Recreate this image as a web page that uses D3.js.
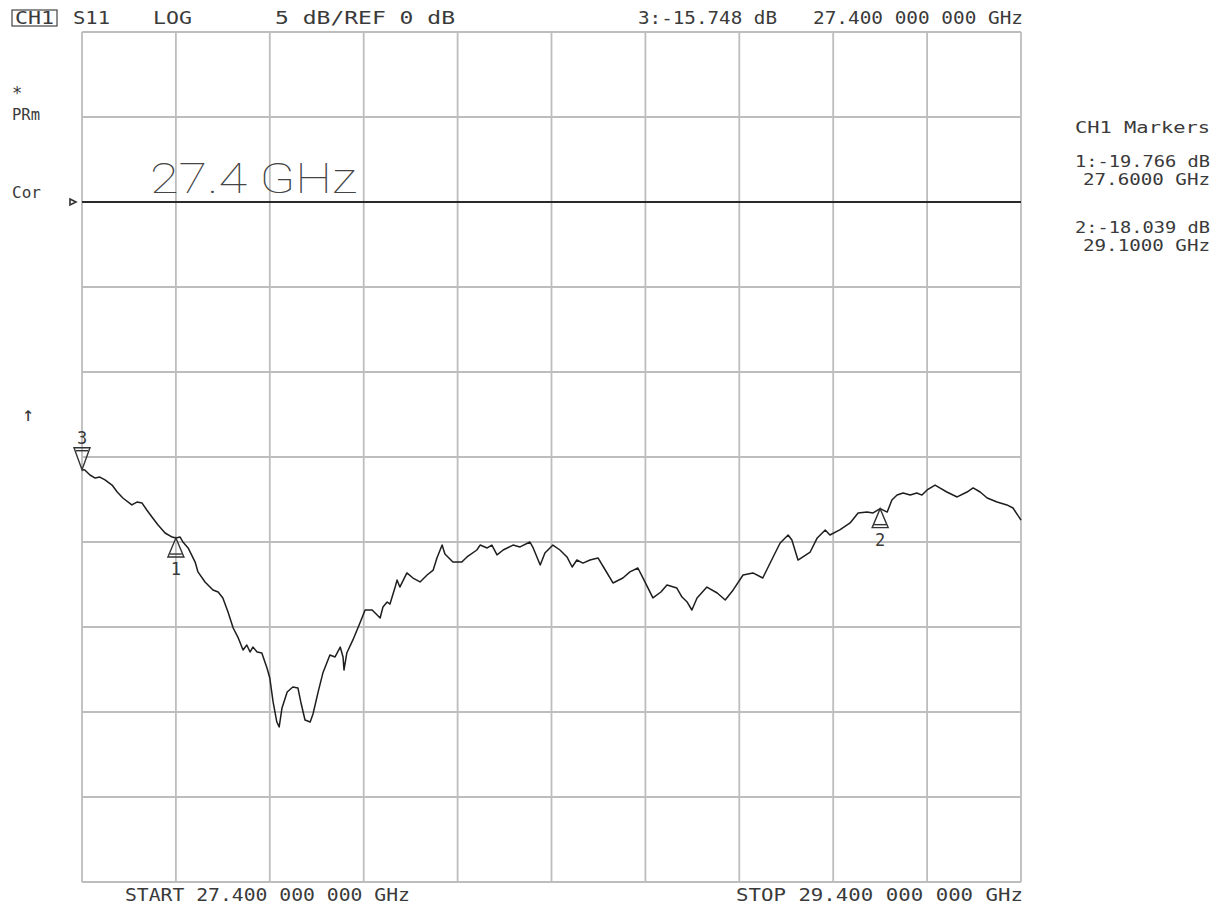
<!DOCTYPE html>
<html>
<head>
<meta charset="utf-8">
<script src="https://cdn.jsdelivr.net/npm/d3@7"></script>
<style>
  html, body { margin: 0; padding: 0; background: #fff; }
  svg { display: block; }
  .mono { font-family: "DejaVu Sans Mono", "Liberation Mono", monospace; fill: #3a3a3a; }
</style>
</head>
<body>
<svg id="chart" width="1217" height="909"></svg>
<script>
// ---- Data ----
const freqGHz = [27.400,27.406,27.417,27.428,27.438,27.449,27.464,27.475,27.487,27.506,27.517,27.528,27.538,27.549,27.562,27.577,27.592,27.600,27.609,27.615,27.626,27.641,27.647,27.662,27.679,27.690,27.700,27.711,27.722,27.732,27.743,27.751,27.758,27.764,27.773,27.783,27.794,27.800,27.807,27.815,27.820,27.826,27.837,27.849,27.860,27.866,27.875,27.886,27.892,27.903,27.913,27.928,27.939,27.950,27.956,27.958,27.964,27.977,27.992,28.003,28.018,28.035,28.041,28.050,28.056,28.067,28.071,28.077,28.092,28.105,28.120,28.135,28.148,28.156,28.167,28.173,28.190,28.209,28.220,28.241,28.248,28.263,28.273,28.284,28.297,28.318,28.333,28.354,28.361,28.376,28.386,28.403,28.418,28.433,28.444,28.454,28.467,28.482,28.499,28.512,28.531,28.552,28.567,28.584,28.595,28.616,28.633,28.646,28.667,28.678,28.689,28.699,28.710,28.731,28.753,28.770,28.787,28.808,28.829,28.850,28.872,28.887,28.904,28.912,28.925,28.951,28.966,28.983,28.993,29.014,29.036,29.053,29.072,29.085,29.100,29.115,29.125,29.136,29.149,29.164,29.178,29.189,29.200,29.217,29.227,29.242,29.264,29.285,29.298,29.313,29.328,29.349,29.370,29.383,29.400];
const s11dB = [-15.748,-15.76,-16.06,-16.24,-16.18,-16.35,-16.65,-17.06,-17.41,-17.82,-17.65,-17.71,-18.12,-18.53,-19.00,-19.47,-19.71,-19.766,-19.71,-20.00,-20.35,-21.18,-21.76,-22.35,-22.82,-22.94,-23.29,-24.12,-25.06,-25.59,-26.35,-26.06,-26.47,-26.18,-26.47,-26.53,-27.41,-28.00,-29.41,-30.59,-30.88,-29.76,-28.82,-28.53,-28.59,-29.41,-30.47,-30.59,-30.12,-28.82,-27.71,-26.65,-26.76,-26.18,-26.76,-27.53,-26.53,-25.76,-24.76,-24.00,-24.00,-24.47,-23.82,-23.53,-23.65,-22.65,-22.24,-22.65,-21.82,-22.12,-22.35,-21.94,-21.65,-20.94,-20.18,-20.71,-21.18,-21.18,-20.88,-20.47,-20.18,-20.35,-20.18,-20.76,-20.47,-20.18,-20.29,-20.00,-20.35,-21.35,-20.65,-20.18,-20.47,-20.88,-21.47,-21.06,-21.24,-21.06,-20.94,-21.53,-22.41,-22.12,-21.76,-21.53,-22.12,-23.29,-22.94,-22.53,-22.71,-23.24,-23.53,-24.00,-23.29,-22.65,-23.00,-23.41,-22.82,-21.94,-21.82,-22.12,-20.88,-20.06,-19.59,-19.88,-21.06,-20.59,-19.76,-19.29,-19.59,-19.29,-18.88,-18.29,-18.24,-18.29,-18.039,-18.24,-17.53,-17.24,-17.12,-17.24,-17.12,-17.24,-16.94,-16.65,-16.82,-17.06,-17.35,-17.06,-16.82,-17.06,-17.41,-17.65,-17.82,-18.00,-18.71];

const markerIds = ["3", "1", "2"];
const markerFreq = [27.4, 27.6, 29.1];
const markerdB = [-15.748, -19.766, -18.039];
const markerDir = ["down", "up", "up"];

const freqStart = 27.4, freqStop = 29.4, freqDivs = 10;
const refLevel = 0, scaleDiv = 5, topLevel = 10, bottomLevel = -40;

const headerLabels = ["S11", "LOG", "5 dB/REF 0 dB", "3:-15.748 dB", "27.400 000 000 GHz"];
const sideLabels = ["*", "PRm", "Cor", "\u2191"];
const markerPanel = ["CH1 Markers", "1:-19.766 dB", "27.6000 GHz", "2:-18.039 dB", "29.1000 GHz"];
const footerLabels = ["START 27.400 000 000 GHz", "STOP 29.400 000 000 GHz"];
const bigLabel = "27.4 GHz";

// ---- Drawing ----
const svg = d3.select("#chart");
const L = 82, R = 1021, T = 32, B = 882;
const x = d3.scaleLinear().domain([freqStart, freqStop]).range([L, R]);
const y = d3.scaleLinear().domain([topLevel, bottomLevel]).range([T, B]);

svg.append("rect").attr("width", 1217).attr("height", 909).attr("fill", "#fff");

const grid = svg.append("g").attr("stroke", "#bdbdbd").attr("stroke-width", 1.8).attr("fill", "none");
const xT = d3.range(freqDivs + 1).map(i => freqStart + i * (freqStop - freqStart) / freqDivs);
const yT = d3.range(topLevel, bottomLevel - 0.001, -scaleDiv);
grid.selectAll("line.v").data(xT).join("line")
  .attr("x1", d => x(d)).attr("x2", d => x(d)).attr("y1", T).attr("y2", B);
grid.selectAll("line.h").data(yT).join("line")
  .attr("x1", L).attr("x2", R).attr("y1", d => y(d)).attr("y2", d => y(d));

// reference line
svg.append("line").attr("x1", L).attr("x2", R).attr("y1", y(refLevel)).attr("y2", y(refLevel))
  .attr("stroke", "#2a2a2a").attr("stroke-width", 2);
// reference pointer
svg.append("path")
  .attr("d", `M${L-12},${y(refLevel)-3} L${L-6},${y(refLevel)} L${L-12},${y(refLevel)+3} Z`)
  .attr("fill", "#fff").attr("stroke", "#333").attr("stroke-width", 1.6);

// big stimulus label
svg.append("text").attr("x", 150).attr("y", 193)
  .attr("font-family", "Roboto, 'DejaVu Sans'").attr("font-weight", 100)
  .attr("font-size", 42).attr("fill", "#444")
  .attr("textLength", 207).attr("lengthAdjust", "spacingAndGlyphs")
  .text(bigLabel);

// trace
const pts = freqGHz.map((f, i) => [f, s11dB[i]]);
svg.append("path").datum(pts)
  .attr("d", d3.line().x(d => x(d[0])).y(d => y(d[1])))
  .attr("fill", "none").attr("stroke", "#1e1e1e").attr("stroke-width", 1.5)
  .attr("stroke-linejoin", "round");

// markers
markerIds.forEach((id, i) => {
  const mx = x(markerFreq[i]), my = y(markerdB[i]);
  const g = svg.append("g").attr("stroke", "#333").attr("fill", "none").attr("stroke-width", 1.4);
  if (markerDir[i] === "down") {
    g.append("path").attr("d", `M${mx-8},${my-22} L${mx+8},${my-22} L${mx},${my} Z`);
    g.append("line").attr("x1", mx-6).attr("x2", mx+6).attr("y1", my-19).attr("y2", my-19);
    svg.append("text").attr("class", "mono").attr("x", mx).attr("y", my-26)
      .attr("text-anchor", "middle").attr("font-size", 17).text(id);
  } else {
    g.append("path").attr("d", `M${mx},${my} L${mx+8},${my+19} L${mx-8},${my+19} Z`);
    g.append("line").attr("x1", mx-6).attr("x2", mx+6).attr("y1", my+16).attr("y2", my+16);
    svg.append("text").attr("class", "mono").attr("x", mx).attr("y", my+37)
      .attr("text-anchor", "middle").attr("font-size", 17).text(id);
  }
});

// header
svg.append("rect").attr("x", 12).attr("y", 10).attr("width", 45).attr("height", 16)
  .attr("fill", "none").attr("stroke", "#444").attr("stroke-width", 1.2);
svg.append("text").attr("class", "mono").attr("x", 15).attr("y", 24).attr("font-size", 17)
  .attr("textLength", 39).attr("lengthAdjust", "spacingAndGlyphs").text("CH1");
const headerPos = [[73, 37], [153, 39], [275, 180], [638, 139], [813, 210]];
svg.selectAll("text.hdr").data(headerLabels).join("text")
  .attr("class", "mono hdr").attr("font-size", 17)
  .attr("x", (d, i) => headerPos[i][0]).attr("y", 24)
  .attr("textLength", (d, i) => headerPos[i][1]).attr("lengthAdjust", "spacingAndGlyphs")
  .text(d => d);

// side labels
const sidePos = [[12, 99, 17], [12, 120, 15.5], [12, 198, 16], [22, 421, 20]];
svg.selectAll("text.side").data(sideLabels).join("text")
  .attr("class", "mono side")
  .attr("x", (d, i) => sidePos[i][0]).attr("y", (d, i) => sidePos[i][1])
  .attr("font-size", (d, i) => sidePos[i][2])
  .text(d => d);

// marker panel
const panelPos = [[1075, 133, 135], [1075, 167, 135], [1083, 185, 127], [1075, 233, 135], [1083, 251, 127]];
svg.selectAll("text.panel").data(markerPanel).join("text")
  .attr("class", "mono panel").attr("font-size", 15.5)
  .attr("x", (d, i) => panelPos[i][0]).attr("y", (d, i) => panelPos[i][1])
  .attr("textLength", (d, i) => panelPos[i][2]).attr("lengthAdjust", "spacingAndGlyphs")
  .text(d => d);

// footer
const footPos = [[125, 285], [736, 287]];
svg.selectAll("text.foot").data(footerLabels).join("text")
  .attr("class", "mono foot").attr("font-size", 17)
  .attr("x", (d, i) => footPos[i][0]).attr("y", 901)
  .attr("textLength", (d, i) => footPos[i][1]).attr("lengthAdjust", "spacingAndGlyphs")
  .text(d => d);
</script>
</body>
</html>
